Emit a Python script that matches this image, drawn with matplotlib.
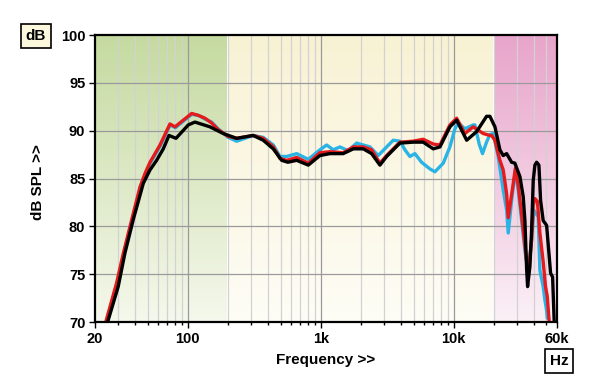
import numpy as np
import matplotlib
matplotlib.use("Agg")
import matplotlib.pyplot as plt
from matplotlib.colors import LinearSegmentedColormap

plt.rcParams['font.family'] = ['Liberation Sans', 'DejaVu Sans']
plt.rcParams['font.weight'] = 'bold'

# ---------------- data ----------------
black_freq = [24.9, 29.9, 33.6, 38.8, 46.2, 51.9, 58.2, 65.3, 72.1, 81.4, 100.7, 113, 146.6, 184.6, 232.9, 310, 369, 439,
              508, 566, 659, 806, 986, 1172, 1476, 1758, 2089, 2416, 2788, 3133, 3944, 4966, 5902, 7026,
              7890, 9380, 10540, 12540, 14900, 17700, 18760, 20470, 22300, 23620, 25060, 27330, 28920, 31550,
              33410, 34400, 35430, 36040, 37520, 38640, 39740, 40920, 42140, 43850, 45160, 47230, 50120,
              53700, 55600, 57160]
black_db = [70.0, 73.7, 77.2, 80.7, 84.5, 85.9, 86.9, 88.1, 89.5, 89.2, 90.6, 90.9, 90.4, 89.7, 89.2, 89.5, 89.0, 88.1,
            86.9, 86.7, 86.9, 86.4, 87.4, 87.6, 87.6, 88.1, 88.1, 87.6, 86.4, 87.3, 88.7, 88.8, 88.8, 88.1,
            88.3, 90.4, 91.1, 89.0, 89.9, 91.5, 91.5, 90.4, 88.0, 87.4, 87.6, 86.7, 86.6, 85.2,
            83.1, 80.6, 75.6, 73.7, 75.8, 79.6, 84.8, 86.4, 86.7, 86.4, 82.7, 80.6, 80.1,
            75.1, 74.7, 70.0]

red_freq = [24.1, 29.1, 32.7, 37.8, 43.6, 47.5, 51.9, 56.6, 61.7, 73.3, 80, 92.4, 106.8, 119.8, 134.5, 151, 169.4, 201,
            233, 310, 369, 440, 493, 554, 659, 806, 986, 1172, 1476, 1758, 2089, 2416, 2788, 3133, 3944,
            4966, 5902, 7026, 7890, 9380, 10540, 12160, 14050, 16710, 18760, 19320, 20470, 22300, 23620,
            25060, 25770, 28120, 29180, 30620, 32500, 34400, 36460, 38640, 39740, 40920, 42720, 44610,
            47230, 49060, 50640, 52430]
red_db = [70.0, 74.1, 77.2, 80.7, 84.1, 85.5, 86.7, 87.6, 88.5, 90.7, 90.4, 91.1, 91.8, 91.6, 91.3, 90.8, 90.1, 89.4,
          89.2, 89.5, 89.2, 88.3, 87.1, 86.9, 87.2, 86.6, 87.7, 87.8, 87.7, 88.3, 88.3, 88.0, 86.6, 87.4, 88.8,
          88.9, 89.1, 88.6, 88.5, 90.6, 91.3, 89.7, 90.4, 89.7, 89.5, 89.5, 89.0, 86.9, 85.9,
          83.4, 80.9, 84.5, 86.1, 84.3, 81.2, 78.0, 74.9, 78.6, 82.2, 82.9, 82.6, 79.3,
          76.3, 73.8, 72.7, 70.0]

cyan_freq = [24.3, 29.3, 32.9, 38, 43.8, 47.7, 52, 56.8, 62, 73.5, 80.5, 92.5, 107, 120, 135, 151, 169, 201, 233, 310,
             369, 440, 493, 554, 659, 806, 986, 1108, 1242, 1395, 1610, 1862, 2089, 2346, 2708, 3133, 3512,
             3944, 4303, 4688, 5115, 5741, 6635, 7233, 8356, 9380, 10230, 10840, 12160, 14050, 14470,
             15580, 16500, 17700, 18760, 19860, 21660, 23620, 25060, 25770, 27330, 29180, 30620, 32500,
             34400, 36460, 38640, 40220, 43310, 44610, 47230, 48640, 50120, 50640]
cyan_db = [70.0, 74.0, 77.1, 80.6, 84.0, 85.4, 86.6, 87.5, 88.4, 90.6, 90.3, 91.0, 91.7, 91.6, 91.2, 90.9, 90.2, 89.3,
           88.9, 89.5, 89.3, 88.5, 87.3, 87.3, 87.6, 87.0, 88.0, 88.5, 88.0, 88.3, 87.9, 88.7, 88.5, 88.3,
           87.4, 88.3, 89.0, 88.9, 88.0, 87.3, 87.6, 86.7, 86.0, 85.7, 86.6, 88.3, 90.2, 90.8, 90.2, 90.6,
           90.6, 88.6, 87.6, 88.8, 89.6, 89.7, 87.3, 83.8, 81.7, 79.3, 82.7, 85.9, 83.8, 80.6,
           77.5, 75.1, 78.6, 81.7, 81.0, 75.4, 73.7, 72.3, 71.2, 70.4]

x_ticks = [20, 100, 1000, 10000, 60000]
x_tick_labels = ['20', '100', '1k', '10k', '60k']
y_ticks = [70, 75, 80, 85, 90, 95, 100]

# ---------------- figure ----------------
fig = plt.figure(figsize=(6, 3.89), dpi=100)
fig.patch.set_facecolor('white')
ax = fig.add_axes([95 / 600, 1 - 322 / 389, 462 / 600, 287 / 389])
ax.set_xscale('log')
ax.set_xlim(20, 60000)
ax.set_ylim(70, 100)

# background bands with vertical gradients
def band(x0, x1, top, bottom):
    cmap = LinearSegmentedColormap.from_list('b', [bottom, top])
    grad = np.linspace(1, 0, 256).reshape(-1, 1)
    ax.imshow(grad, cmap=cmap, aspect='auto', extent=[x0, x1, 70, 100],
              origin='upper', zorder=0, interpolation='bilinear')

band(20, 200, '#c5daa0', '#f5f8ec')
band(200, 20000, '#f8f2d4', '#fefdf6')
band(20000, 60000, '#e8a4ca', '#fbf0f6')
ax.set_xlim(20, 60000)
ax.set_ylim(70, 100)

# grid
minor = []
for dec in [10, 100, 1000, 10000]:
    for m in range(2, 10):
        v = dec * m
        if 20 < v < 60000:
            minor.append(v)
for v in minor:
    ax.axvline(v, color='#d2d2d2', lw=0.9, zorder=1)
for v in [100, 1000, 10000]:
    ax.axvline(v, color='#9a9a9a', lw=0.9, zorder=1)
for v in [75, 80, 85, 90, 95]:
    ax.axhline(v, color='#9a9a9a', lw=0.9, zorder=1)

# curves
kw = dict(lw=2.4, solid_joinstyle='round', solid_capstyle='round')
ax.plot(cyan_freq, cyan_db, color='#2ab4e6', zorder=3, **kw)
ax.plot(red_freq, red_db, color='#e41a1c', zorder=4, **kw)
ax.plot(black_freq, black_db, color='#000000', zorder=5, **kw)

# axes styling
for s in ax.spines.values():
    s.set_linewidth(1.6)
    s.set_color('black')
    s.set_zorder(6)
ax.set_xticks(x_ticks)
ax.set_xticklabels(x_tick_labels)
ax.set_xticks(minor, minor=True)
ax.xaxis.set_minor_formatter(matplotlib.ticker.NullFormatter())
ax.set_yticks(y_ticks)
ax.set_yticklabels([str(v) for v in y_ticks])
ax.tick_params(axis='both', which='major', length=4, width=1, labelsize=10.5, pad=3)
ax.tick_params(axis='x', which='minor', length=2, width=1)
for lab in ax.get_xticklabels() + ax.get_yticklabels():
    lab.set_fontweight('bold')

fig.text(38 / 600, 1 - 182 / 389, 'dB SPL >>', rotation=90, ha='center', va='center',
         fontsize=11, fontweight='bold')
fig.text(326 / 600, 1 - 360 / 389, 'Frequency >>', ha='center', va='center',
         fontsize=11, fontweight='bold')
fig.text(36 / 600, 1 - 36 / 389, 'dB', ha='center', va='center', fontsize=11, fontweight='bold',
         bbox=dict(boxstyle='square,pad=0.3', fc='#fbf8de', ec='black', lw=1.2))
fig.text(559 / 600, 1 - 361 / 389, 'Hz', ha='center', va='center', fontsize=11, fontweight='bold',
         bbox=dict(boxstyle='square,pad=0.3', fc='white', ec='black', lw=1.2))

fig.savefig('out.png', dpi=100)
